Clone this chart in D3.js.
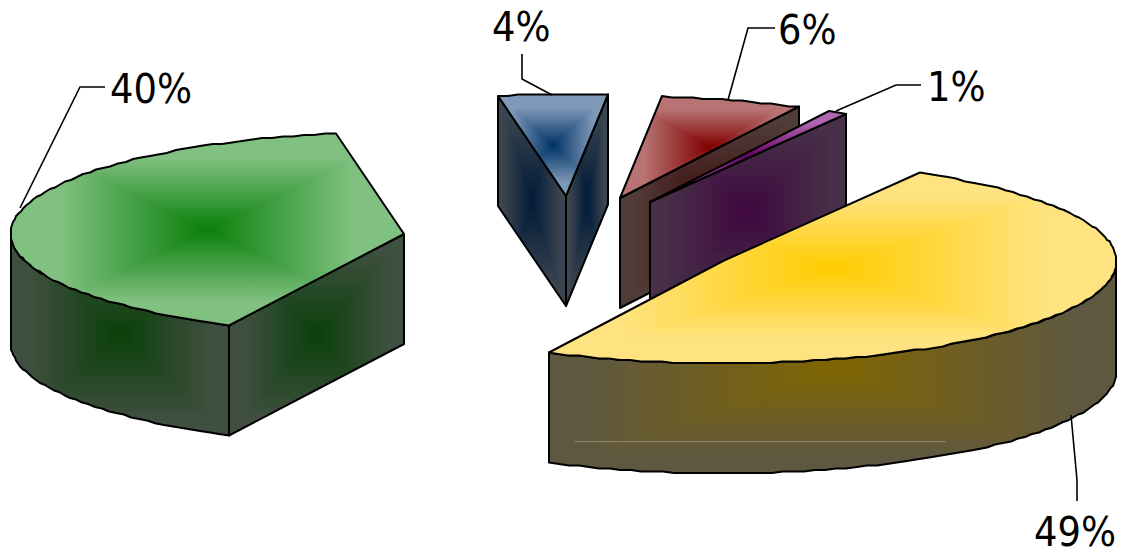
<!DOCTYPE html>
<html><head><meta charset="utf-8">
<script src="https://cdn.jsdelivr.net/npm/d3@7/dist/d3.min.js"></script>
<style>html,body{margin:0;padding:0;background:#fff}svg{display:block}
text{font-family:"DejaVu Sans Condensed","DejaVu Sans",sans-serif;font-stretch:condensed;font-size:41px;fill:#000}</style>
</head><body><svg id="c" width="1123" height="556"></svg>
<script>
// data (clockwise from the pie's first angle)
const categories = ["yellow","green","blue","red","purple"];
const values = [49.0,39.9,4.5,5.8,0.8];
const labels = ["49%","40%","4%","6%","1%"];
const explosions = [0.44,0.43,0.43,0.43,0.42];
const topCenter = ["#ffcc00","#0a800a","#003366","#800000","#660066"];
const topEdge   = ["#ffe380","#80c080","#7f99b8","#b87474","#b266b2"];
const sideCenter= ["#806600","#0a400a","#001a38","#401010","#400840"];
const sideEdge  = ["#5f5840","#405040","#3c4650","#503c38","#473048"];
const drawOrder = ["blue","red","purple","green","yellow"];

const deg=Math.PI/180;
const startDeg=30, depth=110, topPlateau=0.74, sidePlateau=0.85;
const base={x:571,y:240};
const sx=d3.scaleLinear().domain([-1,1]).range([-393,393]);
const sy=d3.scaleLinear().domain([-1,1]).range([-102,102]);
const svg=d3.select("#c");
const defs=svg.append("defs");
let uid=0;
const pie=d3.pie().sort(null).startAngle(startDeg*deg).endAngle((startDeg+360)*deg);
const arcs=pie(values);
const line=d3.line();

function pt(c,a){return [c.x+sx(Math.sin(a)),c.y+sy(-Math.cos(a))];}
function arcPts(c,a0,a1){
  const n=Math.max(2,Math.ceil((a1-a0)/(1.6*deg)));
  return d3.range(n+1).map(i=>{const p=pt(c,a0+(a1-a0)*i/n);return [Math.round(p[0]),Math.round(p[1]/1.5)*1.5];});
}
function gradFace(g,pts,c0,c1,plateau){
  const xs=pts.map(p=>p[0]),ys=pts.map(p=>p[1]);
  const x0=d3.min(xs),x1=d3.max(xs),y0=d3.min(ys),y1=d3.max(ys),cx=(x0+x1)/2,cy=(y0+y1)/2;
  const d=line(pts)+"Z", id="f"+(uid++);
  defs.append("clipPath").attr("id",id).append("path").attr("d",d);
  const fg=g.append("g").attr("clip-path",`url(#${id})`);
  const tris=[
    {e:[cx,y0],t:[[x0,y0],[x1,y0],[cx,cy]]},
    {e:[cx,y1],t:[[x0,y1],[x1,y1],[cx,cy]]},
    {e:[x0,cy],t:[[x0,y0],[x0,y1],[cx,cy]]},
    {e:[x1,cy],t:[[x1,y0],[x1,y1],[cx,cy]]}];
  tris.forEach(tr=>{
    const gid="g"+(uid++);
    const lg=defs.append("linearGradient").attr("id",gid).attr("gradientUnits","userSpaceOnUse")
      .attr("x1",cx).attr("y1",cy).attr("x2",tr.e[0]).attr("y2",tr.e[1]);
    lg.append("stop").attr("offset",0).attr("stop-color",c0);
    lg.append("stop").attr("offset",plateau).attr("stop-color",c1);
    lg.append("stop").attr("offset",1).attr("stop-color",c1);
    fg.append("path").attr("d",line(tr.t)+"Z").attr("fill",`url(#${gid})`).attr("shape-rendering","crispEdges");
  });
  g.append("path").attr("d",d).attr("fill","none").attr("stroke","#000").attr("stroke-width",2).attr("stroke-linejoin","round");
  return {x0,x1,y0,y1};
}
function extrude(top){return top.concat(top.slice().reverse().map(p=>[p[0],p[1]+depth]));}

const order=drawOrder.map(n=>categories.indexOf(n));
order.forEach(i=>{
  const s=arcs[i],a0=s.startAngle,a1=s.endAngle,mid=(a0+a1)/2,e=explosions[i];
  const c={x:base.x+sx(Math.sin(mid))*e,y:base.y+sy(-Math.cos(mid))*e};
  const g=svg.append("g").attr("class","slice "+categories[i]);
  const apex=[Math.round(c.x),Math.round(c.y)];
  const outer=arcPts(c,a0,a1);
  const pS=outer[0],pE=outer[outer.length-1];
  const nS=-(pS[0]-apex[0]), nE=(pE[0]-apex[0]);
  const walls=[];
  if(nS>0) walls.push([apex,pS]);
  if(nE>0) walls.push([apex,pE]);
  const f0=Math.max(a0,90*deg),f1=Math.min(a1,270*deg);
  if(f1>f0) walls.push(arcPts(c,f0,f1));
  walls.forEach(w=>{
    const b=gradFace(g,extrude(w),sideCenter[i],sideEdge[i],sidePlateau);
    if(categories[i]==="yellow"&&w.length>2){
      g.append("line").attr("x1",b.x0+0.045*(b.x1-b.x0)).attr("x2",b.x0+0.70*(b.x1-b.x0))
       .attr("y1",b.y0+0.85*(b.y1-b.y0)+0.5).attr("y2",b.y0+0.85*(b.y1-b.y0)+0.5)
       .attr("stroke","#8f8a6c").attr("stroke-width",1);
    }
  });
  gradFace(g,[apex].concat(outer),topCenter[i],topEdge[i],topPlateau);
});

// labels + leaders
const leaders={
 "40%":{p:[[105,87],[80,87],[20,208]],t:[110,103]},
 "4%":{p:[[522,54],[522,79],[552,95]],t:[492,41]},
 "6%":{p:[[775,28],[748,28],[728,100]],t:[778,44]},
 "1%":{p:[[921,85],[896,85],[836,111]],t:[927,101]},
 "49%":{p:[[1077,501],[1077,480],[1071,415]],t:[1034,546]}
};
labels.forEach(l=>{
  const L=leaders[l];
  svg.append("path").attr("d",line(L.p)).attr("fill","none").attr("stroke","#000").attr("stroke-width",1.6);
  svg.append("text").attr("x",L.t[0]).attr("y",L.t[1]).text(l);
});
</script></body></html>
